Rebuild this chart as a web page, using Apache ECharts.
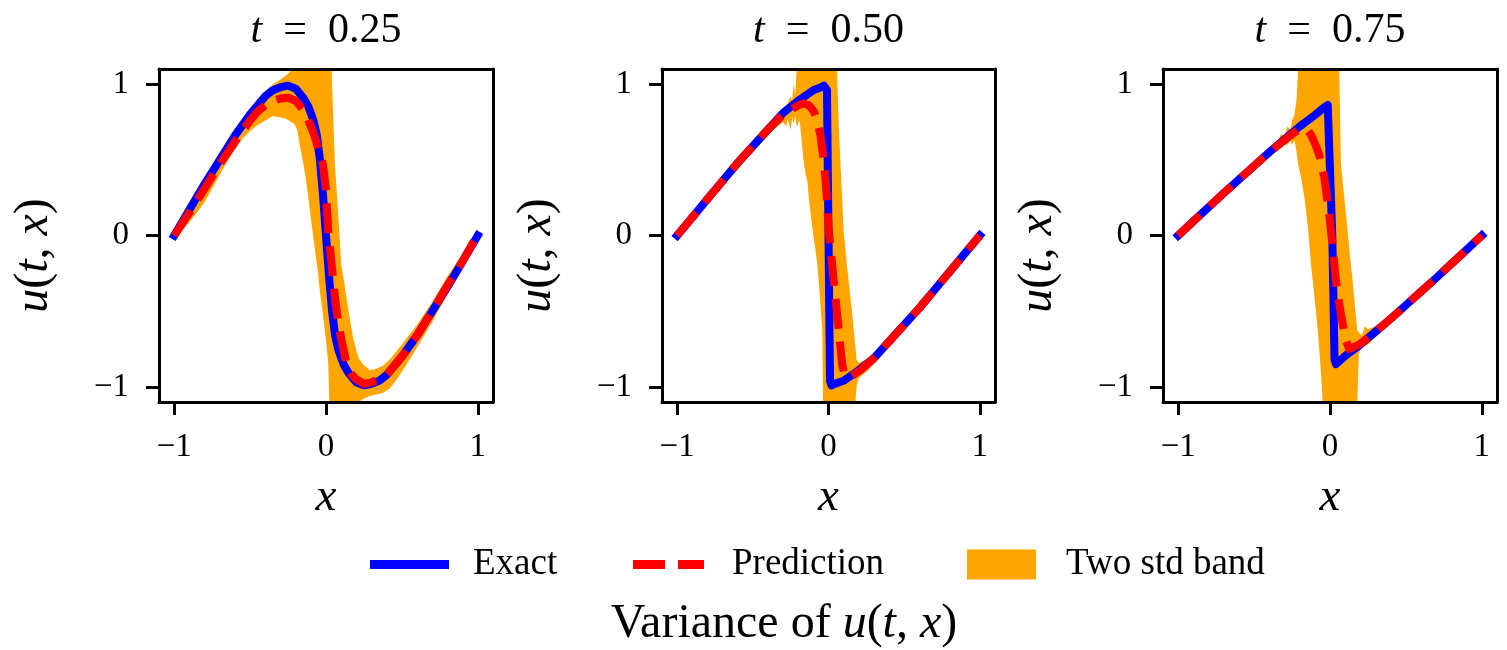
<!DOCTYPE html>
<html><head><meta charset="utf-8">
<script src="https://cdn.jsdelivr.net/npm/echarts@6/dist/echarts.min.js"></script>
<style>html,body{margin:0;padding:0;background:#fff}#c{width:1507px;height:650px}</style>
</head><body><div id="c"></div>
<script>
// ---------------- data ----------------
const panelTimes = ['0.25', '0.50', '0.75'];
const xTicks = [-1, 0, 1];
const yTicks = [-1, 0, 1];
const seriesNames = ['Exact', 'Prediction', 'Two std band'];
const supTitle = 'Variance of ';

// t = 0.25
const exactX1 = [-1, -0.9, -0.8, -0.7, -0.6, -0.5, -0.45, -0.4, -0.35, -0.3, -0.25, -0.2, -0.15, -0.12, -0.1, -0.08, -0.06, -0.04, -0.02, 0, 0.02, 0.04, 0.06, 0.08, 0.1, 0.12, 0.15, 0.2, 0.25, 0.3, 0.35, 0.4, 0.45, 0.5, 0.6, 0.7, 0.8, 0.9, 1];
const exactU1 = [0, 0.17, 0.34, 0.5, 0.66, 0.8, 0.86, 0.92, 0.96, 0.98, 0.99, 0.97, 0.91, 0.86, 0.81, 0.75, 0.66, 0.5, 0.27, 0, -0.27, -0.5, -0.66, -0.75, -0.81, -0.86, -0.91, -0.97, -0.99, -0.98, -0.96, -0.92, -0.86, -0.8, -0.66, -0.5, -0.34, -0.17, 0];
const predX1 = [-1, -0.9, -0.8, -0.7, -0.6, -0.5, -0.45, -0.4, -0.35, -0.3, -0.25, -0.2, -0.15, -0.12, -0.1, -0.08, -0.05, -0.02, 0, 0.015, 0.04, 0.06, 0.08, 0.1, 0.135, 0.17, 0.2, 0.25, 0.3, 0.35, 0.4, 0.5, 0.6, 0.7, 0.8, 0.9, 1];
const predU1 = [0, 0.15, 0.31, 0.47, 0.62, 0.76, 0.82, 0.86, 0.89, 0.905, 0.91, 0.89, 0.83, 0.77, 0.72, 0.67, 0.57, 0.47, 0.3, 0.03, -0.22, -0.42, -0.57, -0.68, -0.85, -0.92, -0.95, -0.98, -0.97, -0.95, -0.92, -0.8, -0.66, -0.5, -0.33, -0.17, 0.01];
const bandX1 = [-1, -0.95, -0.9, -0.85, -0.8, -0.75, -0.7, -0.65, -0.6, -0.55, -0.5, -0.45, -0.4, -0.35, -0.3, -0.26, -0.23, -0.21, -0.19, -0.17, -0.15, -0.137, -0.12, -0.105, -0.09, -0.072, -0.055, -0.04, -0.02, -0.007, 0.005, 0.015, 0.022, 0.037, 0.045, 0.059, 0.07, 0.08, 0.09, 0.1, 0.12, 0.135, 0.155, 0.178, 0.2, 0.215, 0.244, 0.288, 0.33, 0.375, 0.42, 0.46, 0.5, 0.6, 0.7, 0.8, 0.9, 1];
const bandLo1 = [-0.03, 0.03, 0.09, 0.15, 0.22, 0.31, 0.4, 0.49, 0.57, 0.64, 0.69, 0.73, 0.76, 0.79, 0.78, 0.77, 0.75, 0.74, 0.7, 0.58, 0.48, 0.4, 0.28, 0.16, 0.04, -0.1, -0.23, -0.37, -0.52, -0.63, -0.74, -0.85, -1.3, -1.3, -1.3, -1.3, -1.3, -1.3, -1.3, -1.3, -1.3, -1.3, -1.3, -1.3, -1.3, -1.12, -1.08, -1.06, -1.05, -1.04, -1.01, -0.96, -0.9, -0.74, -0.57, -0.39, -0.21, -0.03];
const bandHi1 = [0.03, 0.11, 0.2, 0.29, 0.37, 0.45, 0.53, 0.61, 0.69, 0.77, 0.84, 0.9, 0.95, 1.0, 1.03, 1.06, 1.09, 1.3, 1.3, 1.3, 1.3, 1.3, 1.3, 1.3, 1.3, 1.3, 1.3, 1.3, 1.3, 1.3, 1.3, 1.3, 1.3, 1.15, 0.85, 0.47, 0.3, 0.14, -0.02, -0.19, -0.31, -0.41, -0.54, -0.67, -0.76, -0.81, -0.85, -0.89, -0.88, -0.86, -0.82, -0.77, -0.72, -0.59, -0.44, -0.27, -0.12, 0.04];

// t = 0.50
const exactX2 = [-1, -0.9, -0.8, -0.7, -0.6, -0.5, -0.4, -0.3, -0.2, -0.1, -0.05, -0.03, -0.01, 0, 0.01, 0.02, 0.04, 0.1, 0.2, 0.3, 0.4, 0.5, 0.6, 0.7, 0.8, 0.9, 1];
const exactU2 = [0, 0.12, 0.24, 0.36, 0.48, 0.59, 0.7, 0.81, 0.89, 0.96, 0.98, 0.99, 0.96, 0, -0.96, -0.99, -0.98, -0.96, -0.89, -0.81, -0.7, -0.59, -0.48, -0.36, -0.24, -0.12, 0];
const predX2 = [-1, -0.9, -0.8, -0.7, -0.6, -0.5, -0.4, -0.3, -0.2, -0.162, -0.13, -0.097, -0.075, -0.053, -0.035, -0.02, 0.002, 0.035, 0.068, 0.09, 0.105, 0.12, 0.15, 0.21, 0.3, 0.4, 0.5, 0.6, 0.7, 0.8, 0.9, 1];
const predU2 = [0, 0.12, 0.24, 0.36, 0.48, 0.59, 0.7, 0.8, 0.86, 0.873, 0.86, 0.82, 0.76, 0.66, 0.52, 0.38, 0.03, -0.3, -0.63, -0.85, -0.92, -0.94, -0.93, -0.89, -0.81, -0.7, -0.59, -0.48, -0.36, -0.24, -0.12, 0];
const bandX2 = [-1, -0.9, -0.8, -0.7, -0.6, -0.5, -0.4, -0.35, -0.3, -0.28, -0.27, -0.25, -0.24, -0.23, -0.22, -0.21, -0.19, -0.175, -0.162, -0.15, -0.14, -0.13, -0.118, -0.1, -0.085, -0.074, -0.06, -0.041, -0.036, 0.057, 0.065, 0.079, 0.09, 0.1, 0.12, 0.145, 0.16, 0.178, 0.185, 0.2, 0.25, 0.3, 0.4, 0.5, 0.6, 0.7, 0.8, 0.9, 1];
const bandLo2 = [-0.03, 0.09, 0.21, 0.32, 0.44, 0.55, 0.66, 0.71, 0.75, 0.72, 0.77, 0.7, 0.78, 0.74, 0.79, 0.72, 0.76, 0.6, 0.47, 0.4, 0.36, 0.25, 0.14, 0.0, -0.1, -0.19, -0.36, -0.63, -1.3, -1.3, -1.3, -1.3, -1.3, -1.3, -1.3, -1.3, -1.3, -1.3, -1.0, -0.94, -0.9, -0.85, -0.74, -0.63, -0.51, -0.39, -0.26, -0.14, -0.03];
const bandHi2 = [0.03, 0.15, 0.27, 0.4, 0.52, 0.63, 0.74, 0.79, 0.84, 0.86, 0.87, 0.92, 0.89, 1.0, 0.93, 1.3, 1.3, 1.3, 1.3, 1.3, 1.3, 1.3, 1.3, 1.3, 1.3, 1.3, 1.3, 1.3, 1.3, 1.3, 0.8, 0.47, 0.25, 0.03, -0.18, -0.41, -0.55, -0.74, -0.82, -0.84, -0.82, -0.78, -0.67, -0.56, -0.44, -0.32, -0.2, -0.08, 0.03];

// t = 0.75
const exactX3 = [-1, -0.9, -0.8, -0.7, -0.6, -0.5, -0.4, -0.3, -0.2, -0.1, -0.04, -0.015, -0.004, 0.015, 0.03, 0.04, 0.1, 0.2, 0.3, 0.4, 0.5, 0.6, 0.7, 0.8, 0.9, 1];
const exactU3 = [0, 0.094, 0.187, 0.28, 0.37, 0.46, 0.55, 0.635, 0.72, 0.795, 0.845, 0.862, 0.85, 0, -0.82, -0.85, -0.795, -0.72, -0.635, -0.55, -0.46, -0.37, -0.28, -0.187, -0.094, 0];
const predX3 = [-1, -0.9, -0.8, -0.7, -0.6, -0.5, -0.4, -0.3, -0.25, -0.19, -0.15, -0.125, -0.1, -0.07, -0.037, -0.005, 0.018, 0.039, 0.072, 0.105, 0.127, 0.15, 0.17, 0.2, 0.3, 0.4, 0.5, 0.6, 0.7, 0.8, 0.9, 1];
const predU3 = [0, 0.094, 0.187, 0.28, 0.37, 0.46, 0.55, 0.63, 0.67, 0.71, 0.7, 0.665, 0.61, 0.53, 0.38, 0.14, -0.08, -0.3, -0.52, -0.695, -0.75, -0.74, -0.73, -0.715, -0.635, -0.55, -0.46, -0.37, -0.28, -0.187, -0.094, 0];
const bandX3 = [-1, -0.9, -0.8, -0.7, -0.6, -0.5, -0.4, -0.35, -0.32, -0.3, -0.28, -0.26, -0.25, -0.234, -0.22, -0.21, -0.19, -0.168, -0.145, -0.125, -0.1, -0.08, -0.06, -0.048, 0.061, 0.066, 0.072, 0.095, 0.116, 0.13, 0.149, 0.165, 0.18, 0.19, 0.21, 0.23, 0.25, 0.3, 0.4, 0.5, 0.6, 0.7, 0.8, 0.9, 1];
const bandLo3 = [-0.03, 0.07, 0.16, 0.25, 0.34, 0.43, 0.52, 0.56, 0.58, 0.6, 0.6, 0.63, 0.6, 0.63, 0.55, 0.47, 0.38, 0.25, 0.05, -0.19, -0.43, -0.63, -0.9, -1.3, -1.3, -1.3, -1.3, -1.3, -1.3, -1.3, -1.3, -1.3, -1.3, -0.78, -0.74, -0.73, -0.72, -0.67, -0.58, -0.49, -0.4, -0.31, -0.22, -0.12, -0.03];
const bandHi3 = [0.03, 0.12, 0.21, 0.31, 0.4, 0.49, 0.58, 0.62, 0.67, 0.66, 0.72, 0.7, 0.76, 0.8, 0.9, 1.3, 1.3, 1.3, 1.3, 1.3, 1.3, 1.3, 1.3, 1.3, 1.3, 0.8, 0.47, 0.24, 0.03, -0.12, -0.3, -0.47, -0.63, -0.64, -0.66, -0.6, -0.62, -0.6, -0.52, -0.43, -0.34, -0.25, -0.16, -0.07, 0.03];

// ---------------- chart ----------------
const FONT = '"Liberation Serif", "Times New Roman", serif';
const BLUE = '#0000FF', RED = '#FF0000', ORANGE = '#FFA500';
const panels = [
  { ex: exactX1, eu: exactU1, px: predX1, pu: predU1, bx: bandX1, lo: bandLo1, hi: bandHi1 },
  { ex: exactX2, eu: exactU2, px: predX2, pu: predU2, bx: bandX2, lo: bandLo2, hi: bandHi2 },
  { ex: exactX3, eu: exactU3, px: predX3, pu: predU3, bx: bandX3, lo: bandLo3, hi: bandHi3 }
];
const gridLeft = [159, 662, 1163];
const gridWidth = [334, 333, 334];
const GT = 69, GH = 333;

function fmtTick(v) { return v < 0 ? '\u2212' + Math.abs(v) : String(v); }
function zip(xs, ys) { return xs.map((x, i) => [x, ys[i]]); }

function bandRenderer(p) {
  return function (params, api) {
    if (params.dataIndex !== 0) return null;
    const cs = params.coordSys;
    const y0 = cs.y, y1 = cs.y + cs.height;
    const pts = [];
    for (let i = 0; i < p.bx.length; i++) pts.push(api.coord([p.bx[i], p.lo[i]]));
    for (let i = p.bx.length - 1; i >= 0; i--) pts.push(api.coord([p.bx[i], p.hi[i]]));
    pts.forEach(q => { q[1] = Math.min(y1, Math.max(y0, q[1])); });
    return { type: 'polygon', shape: { points: pts }, style: { fill: ORANGE }, silent: true };
  };
}

const grids = [], xAxes = [], yAxes = [], series = [], titles = [];
const axisLineStyle = { color: '#000', width: 3 };
panels.forEach((p, g) => {
  grids.push({ left: gridLeft[g], top: GT, width: gridWidth[g], height: GH, show: false, outerBoundsMode: 'none' });
  xAxes.push({
    type: 'value', gridIndex: g, min: -1.1, max: 1.1, z: 5,
    splitLine: { show: false },
    axisLine: { show: true, onZero: false, lineStyle: axisLineStyle },
    axisTick: { show: true, inside: false, length: 13, lineStyle: { color: '#000', width: 3 }, customValues: xTicks },
    axisLabel: { show: true, customValues: xTicks, formatter: fmtTick, fontFamily: FONT, fontSize: 33, color: '#000', margin: 29 },
    name: 'x', nameLocation: 'middle', nameGap: 72, nameMoveOverlap: false,
    nameTextStyle: { fontFamily: FONT, fontSize: 47, fontStyle: 'italic', color: '#000' }
  });
  xAxes.push({
    type: 'value', gridIndex: g, position: 'top', min: -1.1, max: 1.1, z: 5,
    splitLine: { show: false }, axisTick: { show: false }, axisLabel: { show: false },
    axisLine: { show: true, onZero: false, lineStyle: axisLineStyle }
  });
  yAxes.push({
    type: 'value', gridIndex: g, min: -1.1, max: 1.1, z: 5,
    splitLine: { show: false },
    axisLine: { show: true, onZero: false, lineStyle: axisLineStyle },
    axisTick: { show: true, inside: false, length: 13, lineStyle: { color: '#000', width: 3 }, customValues: yTicks },
    axisLabel: { show: true, customValues: yTicks, formatter: fmtTick, fontFamily: FONT, fontSize: 33, color: '#000', margin: 30 },
    name: '{i|u}({i|t}, {i|x})', nameLocation: 'middle', nameGap: 101, nameMoveOverlap: false,
    nameTextStyle: { fontFamily: FONT, fontSize: 48, color: '#000', padding: [0, 40, 0, 0],
      rich: { i: { fontFamily: FONT, fontSize: 48, fontStyle: 'italic', color: '#000' } } }
  });
  yAxes.push({
    type: 'value', gridIndex: g, position: 'right', min: -1.1, max: 1.1, z: 5,
    splitLine: { show: false }, axisTick: { show: false }, axisLabel: { show: false },
    axisLine: { show: true, onZero: false, lineStyle: axisLineStyle }
  });
  const xi = 2 * g, yi = 2 * g;
  series.push({
    type: 'custom', name: seriesNames[2], xAxisIndex: xi, yAxisIndex: yi, z: 1, clip: true,
    itemStyle: { color: ORANGE },
    renderItem: bandRenderer(p),
    encode: { x: 0, y: [1, 2] },
    data: p.bx.map((x, i) => [x, p.lo[i], p.hi[i]])
  });
  series.push({
    type: 'line', name: seriesNames[0], xAxisIndex: xi, yAxisIndex: yi, z: 2,
    color: BLUE, showSymbol: false, symbol: 'none',
    lineStyle: { color: BLUE, width: 8, cap: 'square', join: 'round' },
    data: zip(p.ex, p.eu)
  });
  series.push({
    type: 'line', name: seriesNames[1], xAxisIndex: xi, yAxisIndex: yi, z: 3,
    color: RED, showSymbol: false, symbol: 'none',
    lineStyle: { color: RED, width: 8, type: [30, 13], cap: 'butt', join: 'round' },
    data: zip(p.px, p.pu)
  });
  titles.push({
    text: '{i|t}\u2002=\u2002' + panelTimes[g], left: gridLeft[g] + gridWidth[g] / 2, top: 10,
    textAlign: 'center', padding: 0,
    textStyle: { fontFamily: FONT, fontSize: 42, fontWeight: 'normal', color: '#000',
      rich: { i: { fontFamily: FONT, fontSize: 42, fontStyle: 'italic', color: '#000' } } }
  });
});
titles.push({
  text: supTitle + '{i|u}({i|t}, {i|x})', left: 784, top: 600, textAlign: 'center', padding: 0,
  textStyle: { fontFamily: FONT, fontSize: 48, fontWeight: 'normal', color: '#000',
    rich: { i: { fontFamily: FONT, fontSize: 48, fontStyle: 'italic', color: '#000' } } }
});

const legendText = { fontFamily: FONT, fontSize: 37, color: '#000' };
const legends = [
  { left: 370, top: 546, padding: 0, selectedMode: false, itemWidth: 79, itemHeight: 9,
    data: [{ name: seriesNames[0], icon: 'rect', itemStyle: { color: BLUE, borderWidth: 0 } }],
    textStyle: Object.assign({ padding: [0, 0, 0, 19] }, legendText) },
  { left: 633, top: 546, padding: 0, selectedMode: false, itemWidth: 71, itemHeight: 9,
    data: [{ name: seriesNames[1], icon: 'path://M0,0H32V9H0Z M45,0H71V9H45Z', itemStyle: { color: RED, borderWidth: 0 } }],
    textStyle: Object.assign({ padding: [0, 0, 0, 23] }, legendText) },
  { left: 967, top: 546, padding: 0, selectedMode: false, itemWidth: 69, itemHeight: 30,
    data: [{ name: seriesNames[2], icon: 'rect', itemStyle: { color: ORANGE, borderWidth: 0 } }],
    textStyle: Object.assign({ padding: [0, 0, 0, 25] }, legendText) }
];

const chart = echarts.init(document.getElementById('c'), null, { renderer: 'canvas' });
chart.setOption({
  backgroundColor: '#fff',
  animation: false,
  title: titles,
  legend: legends,
  grid: grids,
  xAxis: xAxes,
  yAxis: yAxes,
  series: series
});
</script></body></html>
